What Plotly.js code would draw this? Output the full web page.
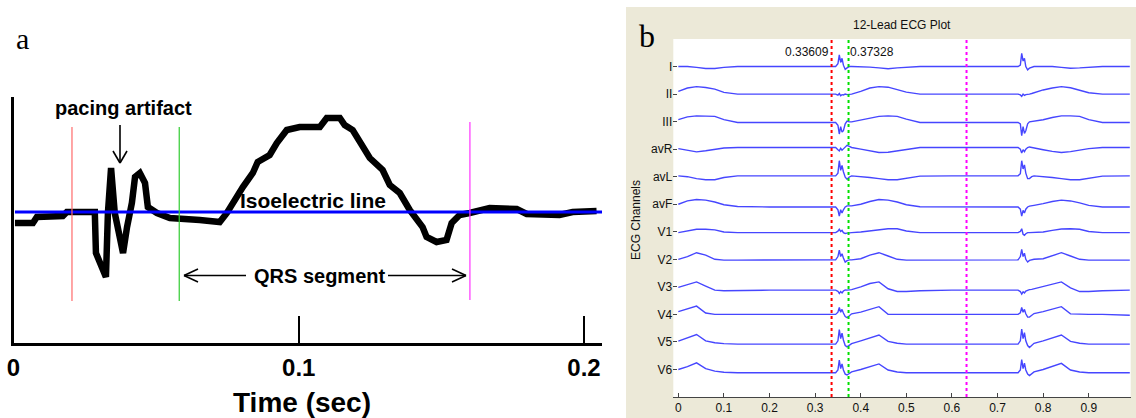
<!DOCTYPE html>
<html><head><meta charset="utf-8">
<script src="https://cdn.plot.ly/plotly-3.0.1.min.js"></script>
<style>html,body{margin:0;padding:0;background:#fff;overflow:hidden}#chart{width:1136px;height:418px}</style>
</head><body><div id="chart"></div>
<script>
// ---------- Panel a : single paced beat ----------
const timeA = [0.0005,0.0068,0.0082,0.0173,0.0187,0.0285,0.0289,0.0303,0.0324,0.0331,0.0342,0.0355,0.0384,0.0398,0.0415,0.0426,0.0443,0.0461,0.0471,0.0503,0.0548,0.0653,0.0723,0.0748,0.0769,0.0804,0.0839,0.0856,0.0898,0.0923,0.0958,0.1003,0.1074,0.1098,0.1144,0.1161,0.1189,0.1224,0.1249,0.1294,0.1319,0.1354,0.1389,0.1434,0.1448,0.1483,0.1518,0.1536,0.1564,0.1599,0.1669,0.1764,0.1799,0.1914,0.1960,0.2044];
const voltA = [-0.11,-0.11,-0.05,-0.04,0.0,0.0,-0.41,-0.50,-0.65,-0.01,0.44,-0.01,-0.41,-0.15,0.09,0.35,0.39,0.29,0.05,-0.01,-0.06,-0.08,-0.10,-0.01,0.09,0.25,0.39,0.50,0.57,0.69,0.82,0.85,0.85,0.94,0.94,0.87,0.82,0.65,0.54,0.42,0.27,0.19,0.02,-0.15,-0.25,-0.30,-0.28,-0.11,-0.03,-0.01,0.04,0.03,-0.02,-0.03,0.0,0.01];
const isoelectricLevel = 0;
const markerTimesA = [0.0205, 0.0581, 0.1600];   // red, green, magenta
const markerColorsA = ['#ff6a6a', '#33cc33', '#ff33ff'];
const tickValsA = [0, 0.1, 0.2];
const tickTextA = ['0', '0.1', '0.2'];

// ---------- Panel b : 12-lead ECG ----------
const leadNames = ['I','II','III','avR','avL','avF','V1','V2','V3','V4','V5','V6'];
const tKnots = [0,0.02,0.04,0.06,0.08,0.10,0.13,0.2,0.3,
  0.345,0.350,0.353,0.356,0.359,0.362,0.366,0.370,0.375,0.38,
  0.40,0.42,0.44,0.46,0.48,0.50,0.53,0.6,0.7,
  0.745,0.750,0.753,0.756,0.759,0.762,0.766,0.770,0.775,0.78,
  0.80,0.82,0.84,0.86,0.88,0.90,0.93,0.99];
const leadI   = [0,0,-0.03,-0.07,-0.07,-0.03,0,0,0, 0,0.1,0.42,0.15,0.3,0.05,-0.1,-0.05,0,0, 0,-0.02,-0.05,-0.08,-0.05,-0.02,0,0,0, 0,0.05,0.48,0.2,0.3,0,-0.12,-0.06,-0.02,0, 0,0,-0.03,-0.06,-0.05,-0.02,0,0];
const leadII  = [0.1,0.22,0.27,0.24,0.18,0.06,0,0,0, 0,-0.04,0.02,-0.06,-0.02,-0.03,0,-0.02,-0.02,0, 0.1,0.22,0.27,0.25,0.16,0.07,0,0,0, 0,-0.03,-0.08,0,-0.05,-0.02,-0.02,0,0.02,0.05, 0.15,0.22,0.27,0.23,0.14,0.05,0,0];
const leadIII = [0.1,0.2,0.24,0.24,0.22,0.1,0,0,0, 0,-0.1,-0.42,-0.15,-0.35,-0.3,-0.05,0.05,0.02,0.02, 0.08,0.16,0.22,0.24,0.22,0.12,0,0,0, 0,-0.05,-0.48,-0.15,-0.4,-0.3,-0.05,0.02,0.03,0.04, 0.1,0.18,0.24,0.24,0.22,0.1,0,0];
const leadAVR = [-0.04,-0.1,-0.16,-0.12,-0.06,-0.02,0,0,0, 0,-0.08,-0.12,-0.03,-0.1,-0.05,0.03,0.08,0.04,0, -0.06,-0.13,-0.18,-0.17,-0.12,-0.05,0,0,0, 0,-0.06,-0.2,-0.08,-0.15,-0.06,0,0.02,0,-0.02, -0.08,-0.14,-0.18,-0.15,-0.1,-0.04,0,0];
const leadAVL = [0,-0.03,-0.1,-0.14,-0.14,-0.06,0,0,0, 0,0.1,0.55,0.2,0.38,0.15,-0.05,-0.12,-0.04,0, -0.02,-0.06,-0.1,-0.14,-0.14,-0.08,-0.01,0,0, 0,0.08,0.55,0.25,0.4,0.1,-0.1,-0.1,-0.03,0, -0.02,-0.06,-0.1,-0.14,-0.14,-0.08,-0.01,0];
const leadAVF = [0.1,0.22,0.27,0.25,0.18,0.08,0.02,0,0, 0,-0.1,-0.33,-0.1,-0.22,-0.1,0,0.04,0.03,0.04, 0.1,0.2,0.27,0.25,0.18,0.08,0.01,0,0, 0,-0.08,-0.33,-0.12,-0.22,-0.08,0,0.03,0.04,0.06, 0.12,0.2,0.25,0.22,0.15,0.06,0,0];
const leadV1  = [0,0.06,0.12,0.12,0.1,0.02,0,0,0, 0,0.05,0.12,0.04,0.08,0,-0.03,-0.02,0,0, 0.02,0.06,0.1,0.14,0.14,0.06,0,0,0, 0,0.04,0.14,-0.06,-0.1,-0.04,0,0,0,0, 0.02,0.08,0.13,0.14,0.12,0.04,0,0];
const leadV2  = [0,0.1,0.24,0.15,0,-0.03,-0.03,-0.02,-0.02, -0.02,0.1,0.33,0.1,0.2,0.05,-0.1,-0.05,-0.02,-0.02, 0.02,0.15,0.24,0.12,0,-0.03,-0.03,-0.02,-0.02, -0.02,0.1,0.36,0.1,0.22,0,-0.1,-0.04,-0.02,0, 0.02,0.14,0.24,0.12,0,-0.03,-0.03,-0.03];
const leadV3  = [0.1,0.2,0.3,0.15,0,-0.02,-0.01,0,0, 0,-0.04,-0.12,-0.05,-0.1,-0.03,0.01,0,0,0.02, 0.12,0.24,0.3,0.05,-0.05,-0.05,-0.02,0,0, 0,-0.05,-0.14,-0.06,-0.1,-0.03,0,0.02,0.03,0.05, 0.12,0.22,0.3,0.08,-0.05,-0.05,-0.02,0];
const leadV4  = [0.1,0.2,0.3,0.05,0,0,0,0,0, 0,0.08,0.25,0.08,0.18,0.05,-0.08,-0.12,-0.04,0.02, 0.08,0.18,0.28,0,0,0,0,0,0, 0,0.06,0.25,0.08,0.18,0.02,-0.1,-0.1,-0.03,0.03, 0.1,0.18,0.28,0.02,0,0,0,-0.03];
const leadV5  = [0.11,0.22,0.35,0.12,0.05,0.02,0,0,0, 0,0.12,0.53,0.2,0.4,0.15,-0.05,-0.1,-0.03,0.02, 0.12,0.22,0.33,0.1,0.03,0,0,0,0, 0,0.12,0.55,0.2,0.42,0.12,-0.05,-0.12,-0.05,0.03, 0.12,0.22,0.33,0.1,0.03,0,0,0];
const leadV6  = [0.12,0.22,0.36,0.15,0.06,0.02,0,0,0, 0,0.1,0.46,0.15,0.32,0.1,-0.05,-0.08,-0.02,0.03, 0.12,0.22,0.32,0.1,0.03,0,0,0,0, 0,0.1,0.48,0.15,0.35,0.1,-0.05,-0.1,-0.03,0.03, 0.12,0.22,0.34,0.1,0.03,0,0,0];
const leadBaseline = [0,0,-0.03,0.06,0.03,-0.1,-0.03,0,-0.12,0,-0.08,-0.12];
const markerTimesB = [0.33609, 0.37328, 0.632];
const markerColorsB = ['#ff0000', '#00e000', '#ff00ff'];
const tickValsB = [0,0.1,0.2,0.3,0.4,0.5,0.6,0.7,0.8,0.9];
const tickTextB = ['0','0.1','0.2','0.3','0.4','0.5','0.6','0.7','0.8','0.9'];

const leadData = [leadI,leadII,leadIII,leadAVR,leadAVL,leadAVF,leadV1,leadV2,leadV3,leadV4,leadV5,leadV6];

// ---------- layout helpers (pixel -> paper) ----------
const W = 1136, H = 418;
const PX = p => p / W, PY = p => 1 - p / H;
const SANS = 'Liberation Sans, Arial, sans-serif';
const SERIF = 'Liberation Serif, Times New Roman, serif';

const traces = [];
traces.push({x: timeA, y: voltA, xaxis: 'x', yaxis: 'y', mode: 'lines',
  line: {color: '#000', width: 6.5, shape: 'linear'}, hoverinfo: 'skip'});
traces.push({x: [timeA[0], 0.2063], y: [isoelectricLevel, isoelectricLevel], xaxis: 'x', yaxis: 'y', mode: 'lines',
  line: {color: '#0000ff', width: 3}, hoverinfo: 'skip'});

leadData.forEach((vals, i) => {
  const pos = leadNames.length - i;
  traces.push({x: tKnots, y: vals.map(v => pos + leadBaseline[i] + v), xaxis: 'x2', yaxis: 'y2',
    mode: 'lines', line: {color: '#4646ff', width: 1.4}, hoverinfo: 'skip'});
});

const shapes = [];
// grey MATLAB figure background and white axes area
shapes.push({type: 'rect', xref: 'paper', yref: 'paper', x0: PX(626), x1: PX(1136), y0: PY(418), y1: PY(7),
  fillcolor: '#ece9d8', line: {width: 0}, layer: 'below'});
shapes.push({type: 'rect', xref: 'paper', yref: 'paper', x0: PX(673.3), x1: PX(1130.7), y0: PY(397), y1: PY(39),
  fillcolor: '#ffffff', line: {width: 0}, layer: 'below'});
// panel a markers
const markerSpanA = [[0.85, -0.89], [0.85, -0.89], [0.90, -0.88]];
markerTimesA.forEach((t, i) => shapes.push({type: 'line', xref: 'x', yref: 'y', x0: t, x1: t,
  y0: markerSpanA[i][0], y1: markerSpanA[i][1], line: {color: markerColorsA[i], width: 1.2}}));
// panel b markers
markerTimesB.forEach((t, i) => shapes.push({type: 'line', xref: 'x2', yref: 'y2 domain', x0: t, x1: t,
  y0: 0, y1: 1, line: {color: markerColorsB[i], width: 2, dash: 'dot'}}));
// arrows (pixel positions)
function seg(x0, y0, x1, y1, w) {
  shapes.push({type: 'line', xref: 'paper', yref: 'paper', x0: PX(x0), y0: PY(y0), x1: PX(x1), y1: PY(y1),
    line: {color: '#000', width: w || 1.6}});
}
seg(120, 125, 120, 163); seg(113, 151, 120, 163); seg(127, 151, 120, 163);
seg(246, 275.5, 184, 275.5); seg(198, 269, 184, 275.5); seg(198, 282, 184, 275.5);
seg(388, 275.5, 466, 275.5); seg(452, 269, 466, 275.5); seg(452, 282, 466, 275.5);

const boldFont = s => ({family: SANS, size: s, color: '#000', weight: 'bold'});
const annotations = [
  {text: 'a', xref: 'paper', yref: 'paper', x: PX(14), y: PY(38), xanchor: 'left', yanchor: 'middle', showarrow: false,
    font: {family: SERIF, size: 30, color: '#000'}},
  {text: 'b', xref: 'paper', yref: 'paper', x: PX(637), y: PY(36), xanchor: 'left', yanchor: 'middle', showarrow: false,
    font: {family: SERIF, size: 32, color: '#000'}},
  {text: 'pacing artifact', xref: 'paper', yref: 'paper', x: PX(124), y: PY(108), xanchor: 'center', yanchor: 'middle',
    showarrow: false, font: boldFont(20)},
  {text: 'Isoelectric line', xref: 'paper', yref: 'paper', x: PX(238), y: PY(200), xanchor: 'left', yanchor: 'middle',
    showarrow: false, font: boldFont(21)},
  {text: 'QRS segment', xref: 'paper', yref: 'paper', x: PX(319), y: PY(276), xanchor: 'center', yanchor: 'middle',
    showarrow: false, font: boldFont(20)},
  {text: 'Time (sec)', xref: 'paper', yref: 'paper', x: PX(302), y: PY(402), xanchor: 'center', yanchor: 'middle',
    showarrow: false, font: boldFont(28)},
  {text: '12-Lead ECG Plot', xref: 'paper', yref: 'paper', x: PX(902), y: PY(25), xanchor: 'center', yanchor: 'middle',
    showarrow: false, font: {family: SANS, size: 12, color: '#111'}},
  {text: 'ECG Channels', xref: 'paper', yref: 'paper', x: PX(636), y: PY(220), xanchor: 'center', yanchor: 'middle',
    textangle: -90, showarrow: false, font: {family: SANS, size: 12, color: '#111'}},
  {text: String(markerTimesB[0]), xref: 'x2', yref: 'paper', x: markerTimesB[0], y: PY(52), xanchor: 'right', yanchor: 'middle',
    showarrow: false, font: {family: SANS, size: 12, color: '#111'}, xshift: -1},
  {text: String(markerTimesB[1]), xref: 'x2', yref: 'paper', x: markerTimesB[1], y: PY(52), xanchor: 'left', yanchor: 'middle',
    showarrow: false, font: {family: SANS, size: 12, color: '#111'}, xshift: -1}
];

const layout = {
  width: W, height: H, margin: {l: 0, r: 0, t: 0, b: 0},
  paper_bgcolor: '#ffffff', plot_bgcolor: 'rgba(0,0,0,0)', showlegend: false,
  xaxis: {domain: [PX(13.5), PX(602)], range: [0, 0.2063], anchor: 'y', showgrid: false, zeroline: false,
    showline: true, linecolor: '#000', linewidth: 3, ticks: 'inside', ticklen: 27, tickwidth: 2.5, tickcolor: '#000',
    tickmode: 'array', tickvals: tickValsA, ticktext: tickTextA, tickfont: boldFont(24), ticklabelstandoff: 1},
  yaxis: {domain: [PY(343), PY(97)], range: [-1.31, 1.15], anchor: 'x', showgrid: false, zeroline: false,
    showline: true, linecolor: '#000', linewidth: 3, ticks: '', showticklabels: false},
  xaxis2: {domain: [PX(673.3), PX(1130.7)], range: [-0.011, 0.992], anchor: 'y2', showgrid: false, zeroline: false,
    showline: true, linecolor: '#444', linewidth: 1, ticks: 'inside', ticklen: 4, tickcolor: '#444',
    tickmode: 'array', tickvals: tickValsB, ticktext: tickTextB, tickfont: {family: SANS, size: 12, color: '#111'}},
  yaxis2: {domain: [PY(397), PY(39)], range: [0, 13], anchor: 'x2', showgrid: false, zeroline: false,
    showline: false, ticks: 'inside', ticklen: 4, tickcolor: '#444',
    tickmode: 'array', tickvals: [1,2,3,4,5,6,7,8,9,10,11,12,13],
    ticktext: leadNames.slice().reverse().concat(['']), tickfont: {family: SANS, size: 12, color: '#111'}},
  shapes: shapes, annotations: annotations
};

Plotly.newPlot('chart', traces, layout, {staticPlot: true, displayModeBar: false});
</script></body></html>
